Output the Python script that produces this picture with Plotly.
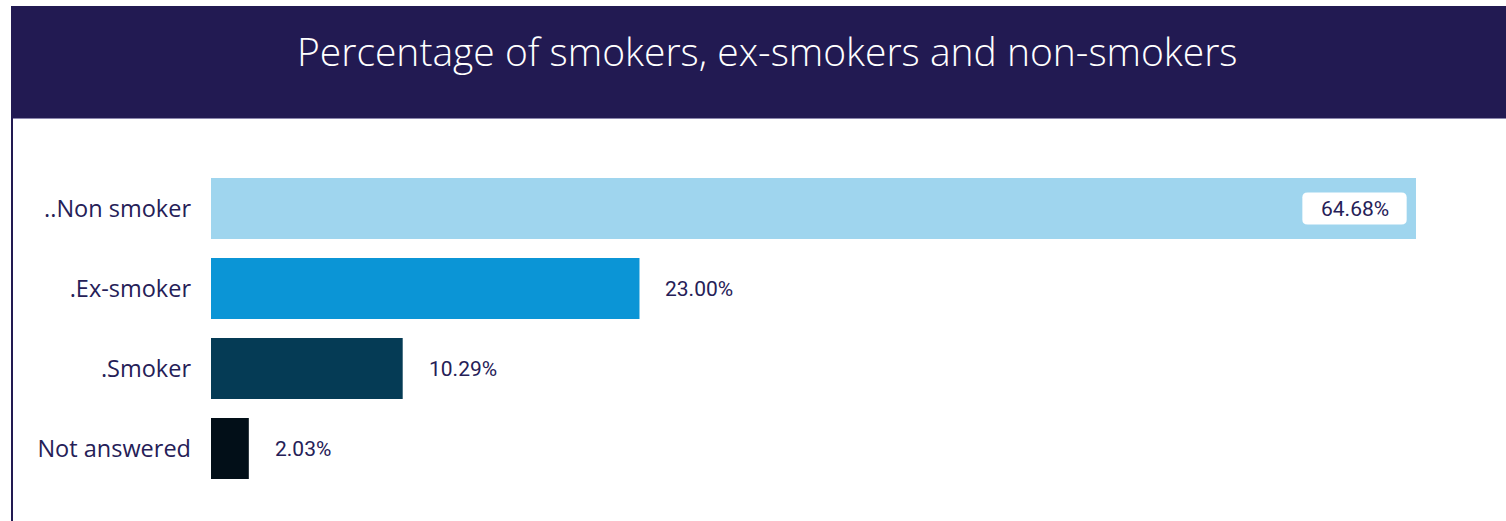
import plotly.graph_objects as go

# Survey results
categories = ["..Non smoker", ".Ex-smoker", ".Smoker", "Not answered"]
percentages = [64.68, 23.00, 10.29, 2.03]
bar_colors = ["#9fd5ee", "#0b95d6", "#053b55", "#020f18"]
title_text = "Percentage of smokers, ex-smokers and non-smokers"

W, H = 1506, 521
NAVY = "#221a52"
LABEL = "#252057"
VALUE_FONT = dict(family="Roboto", size=21, color=LABEL, weight=400)

fig = go.Figure(
    go.Bar(
        y=categories,
        x=percentages,
        orientation="h",
        marker=dict(color=bar_colors, line=dict(width=0)),
        width=0.76,
        hoverinfo="skip",
    )
)

annotations = []
shapes = []

# value labels: inside the longest bar (on a rounded white chip), outside the others
max_val = max(percentages)
for idx, (cat, v) in enumerate(zip(categories, percentages)):
    if v == max_val:
        x_right = v - 0.5
        x_left = v - 6.1
        r_x, r_y = 0.28, 0.06
        yt, yb = idx - 0.2, idx + 0.2
        path = (
            f"M {x_left + r_x},{yt} L {x_right - r_x},{yt} "
            f"Q {x_right},{yt} {x_right},{yt + r_y} "
            f"L {x_right},{yb - r_y} Q {x_right},{yb} {x_right - r_x},{yb} "
            f"L {x_left + r_x},{yb} Q {x_left},{yb} {x_left},{yb - r_y} "
            f"L {x_left},{yt + r_y} Q {x_left},{yt} {x_left + r_x},{yt} Z"
        )
        shapes.append(dict(type="path", xref="x", yref="y", path=path,
                           fillcolor="white", line=dict(width=0), layer="above"))
        annotations.append(dict(x=(x_left + x_right) / 2, y=cat, xref="x", yref="y",
                                text=f"{v:.2f}%", showarrow=False, xanchor="center",
                                font=VALUE_FONT))
    else:
        annotations.append(dict(x=v, y=cat, xref="x", yref="y", text=f"{v:.2f}%",
                                showarrow=False, xanchor="left", xshift=24,
                                font=VALUE_FONT))

# header band and frame
shapes.append(dict(type="rect", xref="paper", yref="paper",
                   x0=11 / W, x1=1, y0=1 - 118 / H, y1=1 - 6 / H,
                   fillcolor=NAVY, line=dict(width=0), layer="below"))
shapes.append(dict(type="line", xref="paper", yref="paper",
                   x0=11 / W, x1=1, y0=1 - 118.5 / H, y1=1 - 118.5 / H,
                   line=dict(color="#8c87ad", width=1)))
shapes.append(dict(type="line", xref="paper", yref="paper",
                   x0=12 / W, x1=12 / W, y0=0, y1=1 - 118 / H,
                   line=dict(color=NAVY, width=2)))

annotations.append(dict(x=767 / W, y=1 - 50 / H, xref="paper", yref="paper",
                        text=title_text, showarrow=False, xanchor="center", yanchor="middle",
                        font=dict(family="Open Sans", size=39, color="white", weight=300)))

fig.update_layout(
    width=W, height=H,
    margin=dict(l=0, r=0, t=0, b=0),
    paper_bgcolor="white", plot_bgcolor="white",
    showlegend=False,
    shapes=shapes,
    annotations=annotations,
    xaxis=dict(domain=[211 / W, 1], range=[0, 1295 / 18.63],
               showgrid=False, zeroline=False, showticklabels=False, showline=False),
    yaxis=dict(domain=[1 - 488.5 / H, 1 - 168.5 / H], autorange="reversed",
               categoryorder="array", categoryarray=categories,
               showgrid=False, zeroline=False, showline=False, ticks="",
               ticklabelstandoff=19,
               tickfont=dict(family="Open Sans", size=23.5, color=LABEL)),
)

fig.write_html("out.html")
